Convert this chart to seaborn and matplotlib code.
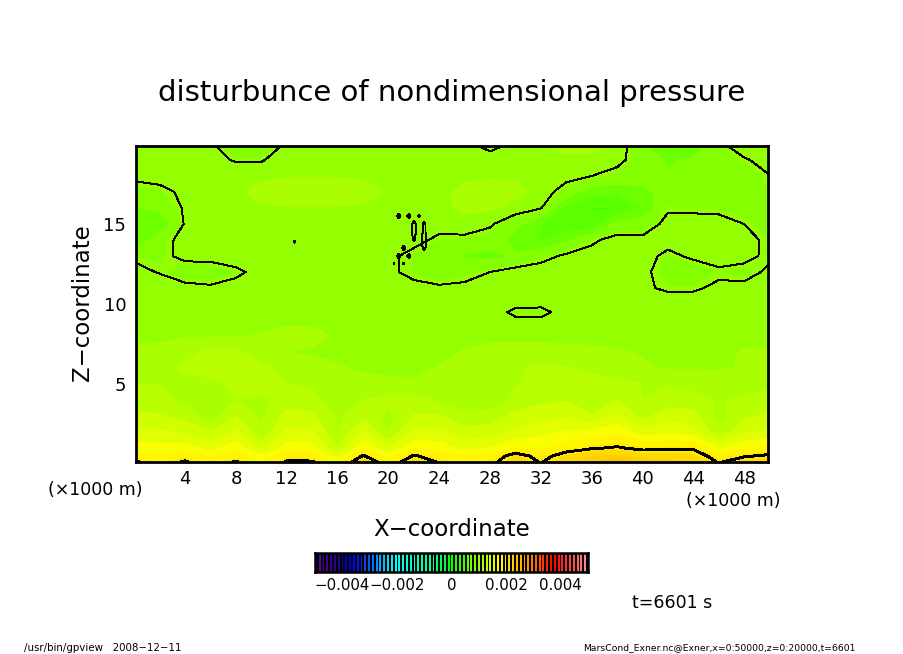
import numpy as np
import matplotlib
matplotlib.use("Agg")
import matplotlib.pyplot as plt
from matplotlib.colors import LinearSegmentedColormap, ListedColormap
from matplotlib.ticker import MultipleLocator
import seaborn as sns

# grid nodes, km
x_km = [0.125, 2, 4, 6, 8, 10, 12, 14, 16, 18, 20, 22, 24, 26, 28, 30, 32, 34, 36, 38, 40, 42, 44, 46, 48, 49.875]
z_km = [19.875, 19, 18, 17, 16, 15, 14, 13, 12, 11, 10, 9.5, 9, 8, 7, 6, 5, 4, 3, 2, 1, 0.5, 0.125]

# pressure disturbance in units of 0.001, rows from top to bottom
exner = [
    [1.09, 1.09, 1.09, 1.05, 0.80, 0.80, 1.06, 1.09, 1.09, 1.10, 1.10, 1.09, 1.08, 1.06, 0.95, 1.05, 1.10, 1.14, 1.14, 1.10, 0.85, 0.72, 0.75, 0.95, 1.09, 1.09],
    [1.09, 1.09, 1.05, 1.03, 0.99, 0.99, 1.06, 1.08, 1.09, 1.09, 1.09, 1.08, 1.07, 1.07, 1.08, 1.09, 1.09, 1.09, 1.08, 1.04, 0.92, 0.82, 0.85, 0.93, 0.98, 1.06],
    [1.03, 1.05, 1.06, 1.05, 1.07, 1.08, 1.10, 1.10, 1.10, 1.10, 1.09, 1.08, 1.08, 1.09, 1.10, 1.10, 1.09, 1.05, 1.00, 0.95, 0.90, 0.85, 0.88, 0.90, 0.92, 0.99],
    [0.94, 0.96, 1.03, 1.05, 1.08, 1.17, 1.20, 1.20, 1.19, 1.15, 1.10, 1.09, 1.09, 1.14, 1.16, 1.14, 1.08, 0.92, 0.75, 0.72, 0.80, 0.88, 0.85, 0.88, 0.92, 0.96],
    [0.82, 0.88, 1.02, 1.06, 1.08, 1.09, 1.10, 1.10, 1.10, 1.10, 1.09, 1.08, 1.09, 1.13, 1.13, 1.08, 1.01, 0.65, 0.55, 0.55, 0.72, 0.98, 0.97, 0.96, 0.92, 0.92],
    [0.72, 0.70, 1.02, 1.06, 1.07, 1.08, 1.09, 1.08, 1.08, 1.08, 1.08, 1.07, 1.05, 1.08, 1.02, 0.88, 0.70, 0.58, 0.58, 0.88, 0.90, 1.05, 1.06, 1.06, 1.00, 0.92],
    [0.72, 0.93, 1.06, 1.07, 1.06, 1.08, 1.08, 1.08, 1.08, 1.08, 1.06, 1.04, 0.97, 0.96, 0.93, 0.78, 0.68, 0.80, 0.97, 1.06, 1.04, 1.06, 1.08, 1.08, 1.05, 0.97],
    [0.97, 0.95, 1.05, 1.07, 1.07, 1.08, 1.08, 1.06, 1.06, 1.05, 1.03, 0.96, 0.86, 0.82, 0.78, 0.85, 0.94, 1.03, 1.06, 1.08, 1.06, 0.96, 1.03, 1.07, 1.06, 0.96],
    [1.04, 0.99, 0.90, 0.88, 0.97, 1.05, 1.08, 1.05, 1.04, 1.03, 1.02, 0.97, 0.88, 0.95, 1.00, 1.06, 1.08, 1.08, 1.10, 1.10, 1.04, 0.92, 0.90, 0.97, 0.93, 1.03],
    [1.08, 1.08, 1.05, 1.03, 1.05, 1.03, 1.05, 1.05, 1.05, 1.05, 1.04, 1.03, 1.03, 1.03, 1.05, 1.03, 1.03, 1.06, 1.08, 1.08, 1.02, 0.98, 0.98, 1.03, 1.05, 1.06],
    [1.08, 1.06, 1.04, 1.02, 1.02, 1.03, 1.06, 1.08, 1.08, 1.08, 1.08, 1.08, 1.07, 1.06, 1.03, 1.015, 1.015, 1.03, 1.05, 1.06, 1.06, 1.06, 1.07, 1.08, 1.08, 1.08],
    [1.08, 1.06, 1.05, 1.05, 1.05, 1.05, 1.07, 1.08, 1.08, 1.09, 1.09, 1.08, 1.07, 1.05, 1.03, 0.985, 0.98, 1.03, 1.05, 1.06, 1.06, 1.06, 1.07, 1.08, 1.08, 1.08],
    [1.08, 1.07, 1.07, 1.07, 1.08, 1.08, 1.09, 1.09, 1.09, 1.09, 1.09, 1.08, 1.07, 1.05, 1.04, 1.01, 1.01, 1.03, 1.06, 1.07, 1.07, 1.07, 1.07, 1.08, 1.08, 1.08],
    [1.09, 1.09, 1.10, 1.10, 1.10, 1.12, 1.14, 1.14, 1.10, 1.08, 1.07, 1.06, 1.07, 1.08, 1.06, 1.05, 1.05, 1.05, 1.07, 1.08, 1.07, 1.07, 1.07, 1.07, 1.08, 1.09],
    [1.13, 1.14, 1.20, 1.28, 1.28, 1.16, 1.11, 1.10, 1.09, 1.08, 1.07, 1.07, 1.08, 1.12, 1.18, 1.21, 1.20, 1.17, 1.14, 1.12, 1.10, 1.08, 1.08, 1.08, 1.12, 1.12],
    [1.18, 1.20, 1.28, 1.32, 1.30, 1.28, 1.18, 1.16, 1.12, 1.10, 1.08, 1.08, 1.12, 1.20, 1.22, 1.24, 1.26, 1.26, 1.22, 1.18, 1.13, 1.10, 1.10, 1.10, 1.12, 1.14],
    [1.25, 1.25, 1.20, 1.20, 1.30, 1.30, 1.25, 1.22, 1.18, 1.14, 1.14, 1.13, 1.20, 1.18, 1.18, 1.24, 1.30, 1.34, 1.30, 1.28, 1.25, 1.24, 1.20, 1.18, 1.18, 1.22],
    [1.32, 1.30, 1.20, 1.18, 1.25, 1.22, 1.30, 1.30, 1.16, 1.25, 1.30, 1.30, 1.22, 1.16, 1.12, 1.30, 1.35, 1.38, 1.30, 1.38, 1.25, 1.30, 1.30, 1.24, 1.28, 1.30],
    [1.42, 1.40, 1.34, 1.18, 1.38, 1.22, 1.45, 1.42, 1.22, 1.35, 1.20, 1.40, 1.40, 1.28, 1.32, 1.42, 1.48, 1.50, 1.40, 1.55, 1.35, 1.48, 1.45, 1.20, 1.35, 1.42],
    [1.55, 1.55, 1.50, 1.40, 1.55, 1.28, 1.55, 1.55, 1.25, 1.55, 1.25, 1.55, 1.55, 1.45, 1.45, 1.55, 1.62, 1.68, 1.70, 1.78, 1.58, 1.62, 1.58, 1.30, 1.50, 1.55],
    [1.72, 1.72, 1.72, 1.62, 1.75, 1.50, 1.75, 1.72, 1.40, 1.78, 1.55, 1.78, 1.75, 1.62, 1.68, 1.82, 1.78, 1.90, 1.98, 2.02, 1.95, 1.96, 1.97, 1.65, 1.78, 1.85],
    [1.85, 1.85, 1.92, 1.78, 1.90, 1.70, 1.92, 1.90, 1.60, 2.02, 1.75, 2.02, 1.90, 1.80, 1.85, 2.10, 1.92, 2.10, 2.20, 2.25, 2.15, 2.14, 2.12, 1.90, 1.98, 2.03],
    [2.02, 1.90, 2.02, 1.85, 2.02, 1.80, 2.02, 2.02, 1.75, 2.20, 1.85, 2.15, 1.98, 1.85, 1.92, 2.20, 1.98, 2.20, 2.35, 2.45, 2.30, 2.28, 2.22, 1.98, 2.12, 2.15],
]

# small noisy patch of the 0.001 contour near x=21-23 km
patch_x = [20.4, 20.8, 21.2, 21.6, 22.0, 22.4, 22.8, 23.2]
patch_z = [16, 15.5, 15, 14.5, 14, 13.5, 13, 12.5]
patch = [
    [1.05, 1.05, 1.05, 1.05, 1.05, 1.05, 1.05, 1.05],
    [1.05, 0.98, 1.05, 0.98, 1.05, 0.99, 1.05, 1.05],
    [1.05, 1.05, 1.05, 1.05, 0.97, 1.05, 0.98, 1.05],
    [1.05, 1.05, 1.05, 1.05, 0.97, 1.05, 0.98, 1.05],
    [1.05, 1.05, 1.05, 1.05, 0.99, 1.05, 0.97, 1.05],
    [1.05, 1.05, 0.98, 1.05, 1.05, 1.05, 0.98, 1.05],
    [1.05, 0.98, 1.05, 0.98, 1.05, 1.05, 1.05, 1.05],
    [0.99, 1.05, 0.99, 1.05, 1.05, 1.05, 1.05, 1.05],
]

# the tiny dot near x=12.6
dot_x = [12.5, 12.6, 12.7]
dot_z = [13.8, 13.9, 14.0]
dot = [
    [1.05, 1.05, 1.05],
    [1.05, 0.9, 1.05],
    [1.05, 1.05, 1.05],
]

x_ticks = [4, 8, 12, 16, 20, 24, 28, 32, 36, 40, 44, 48]
z_ticks = [5, 10, 15]
cbar_ticks = [-4, -2, 0, 2, 4]
cbar_labels = ["\u22120.004", "\u22120.002", "0", "0.002", "0.004"]

W, H = 904, 654
n_levels = 72
levels = np.linspace(-5, 5, n_levels + 1)

sns.set_style("white")
plt.rcParams["font.family"] = ["DejaVu Sans"]
plt.rcParams["text.color"] = "black"

# rainbow as in the colour bar
anchors = [
    (-5.0, "#6a00a0"), (-4.1, "#200090"), (-3.8, "#0000c0"), (-3.5, "#0000ff"),
    (-2.1, "#00ffff"), (-0.5, "#00ff80"), (0.0, "#00ff00"), (1.8, "#ffff00"),
    (2.8, "#ff9900"), (3.8, "#ff0000"), (5.0, "#ff8888"),
]
rainbow = LinearSegmentedColormap.from_list("rainbow_gt", [((v + 5) / 10, c) for v, c in anchors])
mids = (levels[:-1] + levels[1:]) / 2
band_cmap = ListedColormap(rainbow((mids + 5) / 10))


def px_x(p):
    return p / W


def px_y(p):
    return 1 - p / H


fig = plt.figure(figsize=(W / 100, H / 100), dpi=100)
ax = fig.add_axes([px_x(136), px_y(462), 632 / W, 316 / H])

X = np.array(x_km)
Z = np.array(z_km)[::-1]
P = np.array(exner)[::-1]

ax.contourf(X, Z, P, levels=levels, cmap=band_cmap, vmin=-5, vmax=5, antialiased=False)
ax.contour(X, Z, P, levels=[1.0], colors="black", linewidths=0.7, antialiased=False)
ax.contour(X, Z, P, levels=[2.0], colors="black", linewidths=1.4, antialiased=False)
ax.contour(patch_x, patch_z[::-1], np.array(patch)[::-1], levels=[1.0], colors="black", linewidths=0.7, antialiased=False)
ax.contour(dot_x, dot_z, np.array(dot), levels=[1.0], colors="black", linewidths=0.7, antialiased=False)

ax.set_xlim(0.125, 49.875)
ax.set_ylim(0.125, 19.875)
ax.set_xticks(x_ticks)
ax.set_yticks(z_ticks)
ax.xaxis.set_minor_locator(MultipleLocator(2))
ax.yaxis.set_minor_locator(MultipleLocator(1))
ax.tick_params(which="major", direction="in", length=6, width=1.2, top=True, right=True, labelsize=13, colors="black")
ax.tick_params(which="minor", direction="in", length=3.6, width=0.8, top=True, right=True, colors="black")
ax.tick_params(axis="x", which="major", pad=6)
ax.tick_params(axis="y", which="major", pad=7)
for s in ax.spines.values():
    s.set_linewidth(2)
    s.set_color("black")
    s.set_visible(True)

# colour bar: every other narrow cell is coloured, the masked ones show the black background
cax = fig.add_axes([px_x(315), px_y(572), 273 / W, 19 / H])
strip = np.repeat(mids, 2)[None, :]
strip_mask = np.tile([False, True], n_levels)[None, :]
sns.heatmap(strip, mask=strip_mask, ax=cax, cmap=band_cmap, vmin=-5, vmax=5, cbar=False,
            xticklabels=False, yticklabels=False)
cax.set_facecolor("black")
cax.set_xticks([(t + 5) / 10 * strip.shape[1] for t in cbar_ticks])
cax.set_xticklabels(cbar_labels, fontsize=10.8, rotation=0, color="black")
cax.tick_params(axis="x", length=0, pad=4, bottom=False)
for s in cax.spines.values():
    s.set_visible(True)
    s.set_linewidth(1.8)
    s.set_color("black")

fig.text(px_x(452), px_y(93), "disturbunce of nondimensional pressure", ha="center", va="center", fontsize=21)
fig.text(px_x(452), px_y(529), "X\u2212coordinate", ha="center", va="center", fontsize=16.5)
fig.text(px_x(83), px_y(303), "Z\u2212coordinate", ha="center", va="center", rotation=90, fontsize=16.5)
fig.text(px_x(95), px_y(490), "(\u00d71000 m)", ha="center", va="center", fontsize=12.5)
fig.text(px_x(733), px_y(501), "(\u00d71000 m)", ha="center", va="center", fontsize=12.5)
fig.text(px_x(672), px_y(603), "t=6601 s", ha="center", va="center", fontsize=12.5)
fig.text(px_x(24), px_y(648), "/usr/bin/gpview   2008\u221212\u221211", ha="left", va="center", fontsize=7.4)
fig.text(px_x(583), px_y(648), "MarsCond_Exner.nc@Exner,x=0:50000,z=0:20000,t=6601", ha="left", va="center", fontsize=6.7)

fig.savefig("out.png", dpi=100)
